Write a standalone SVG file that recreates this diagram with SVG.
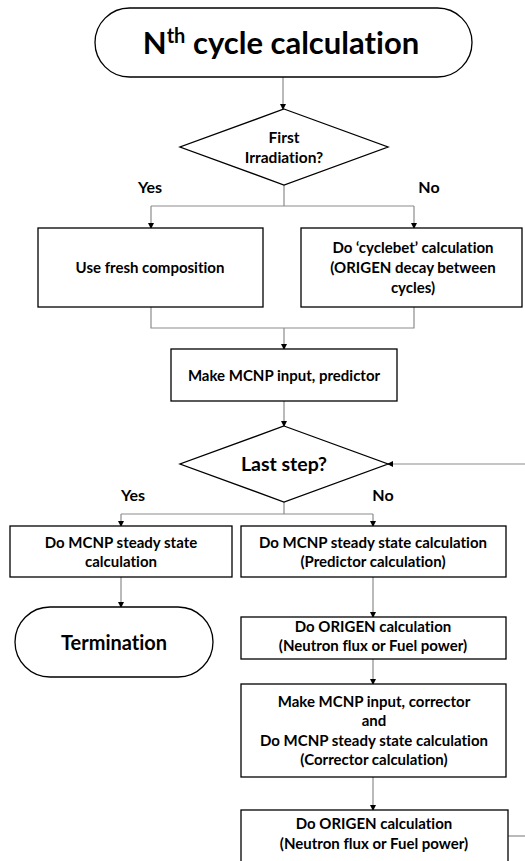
<svg xmlns="http://www.w3.org/2000/svg" width="525" height="861" viewBox="0 0 525 861">
<style>
text{font-family:Lato,"Open Sans","Liberation Sans",sans-serif;font-weight:bold;fill:#000;text-anchor:middle;font-variant-ligatures:none}
.box{fill:#fff;stroke:#000;stroke-width:1.3}
.c{fill:none;stroke:#8c8c8c;stroke-width:1.2}
.t14{font-size:15px}
.lbl{font-size:16px}
</style>
<defs>
<marker id="ah" markerWidth="6" markerHeight="6" refX="5" refY="3" orient="auto" markerUnits="userSpaceOnUse">
<path d="M0,0 L6,3 L0,6 z" fill="#000"/>
</marker>
</defs>
<rect width="525" height="861" fill="#fff"/>
<g id="connectors">
<path class="c" d="M283,77 V109" marker-end="url(#ah)"/>
<path class="c" d="M284,185 V206 M151,206 H414"/>
<path class="c" d="M151,206 V228" marker-end="url(#ah)"/>
<path class="c" d="M414,206 V228" marker-end="url(#ah)"/>
<path class="c" d="M151,307 V328 H414 V307"/>
<path class="c" d="M284,328 V349" marker-end="url(#ah)"/>
<path class="c" d="M284,401 V426" marker-end="url(#ah)"/>
<path class="c" d="M525,464 H388" marker-end="url(#ah)"/>
<path class="c" d="M284,502 V514 M121,514 H373"/>
<path class="c" d="M121,514 V526" marker-end="url(#ah)"/>
<path class="c" d="M373,514 V526" marker-end="url(#ah)"/>
<path class="c" d="M121,577 V607" marker-end="url(#ah)"/>
<path class="c" d="M373,577 V617" marker-end="url(#ah)"/>
<path class="c" d="M373,659 V684" marker-end="url(#ah)"/>
<path class="c" d="M373,777 V810" marker-end="url(#ah)"/>
<path class="c" d="M508,836 H525"/>
</g>
<g id="start">
<rect class="box" x="95" y="8" width="377" height="69" rx="34.5" ry="34.5"/>
<text x="281" y="54" style="font-size:31px">N<tspan style="font-size:20px" dy="-11">th</tspan><tspan dy="11"> cycle calculation</tspan></text>
</g>
<g id="first-irradiation">
<polygon class="box" points="284,109 388,147 284,185 180,147"/>
<text x="284" y="143" style="font-size:15.5px">First</text>
<text x="284" y="163" style="font-size:15.5px">Irradiation?</text>
</g>
<g id="labels1">
<text class="lbl" x="150" y="193">Yes</text>
<text class="lbl" x="429" y="193">No</text>
</g>
<g id="fresh">
<rect class="box" x="38" y="228" width="225" height="79"/>
<text class="t14" x="150" y="273">Use fresh composition</text>
</g>
<g id="cyclebet">
<rect class="box" x="301" y="228" width="221" height="79"/>
<text class="t14" x="413" y="253">Do ‘cyclebet’ calculation</text>
<text class="t14" x="413" y="273">(ORIGEN decay between</text>
<text class="t14" x="413" y="293">cycles)</text>
</g>
<g id="predictor-input">
<rect class="box" x="171" y="349" width="226" height="52"/>
<text class="t14" x="284" y="381">Make MCNP input, predictor</text>
</g>
<g id="last-step">
<polygon class="box" points="284,426 388,464 284,502 180,464"/>
<text x="284" y="471" style="font-size:19.5px">Last step?</text>
</g>
<g id="labels2">
<text class="lbl" x="133" y="501">Yes</text>
<text class="lbl" x="383" y="501">No</text>
</g>
<g id="steady-final">
<rect class="box" x="10" y="526" width="222" height="51"/>
<text class="t14" x="121" y="548">Do MCNP steady state</text>
<text class="t14" x="121" y="567">calculation</text>
</g>
<g id="termination">
<rect class="box" x="15" y="607" width="198" height="70" rx="35" ry="35"/>
<text x="114" y="650" style="font-size:20px">Termination</text>
</g>
<g id="steady-predictor">
<rect class="box" x="241" y="526" width="265" height="51"/>
<text class="t14" x="373" y="548">Do MCNP steady state calculation</text>
<text class="t14" x="373" y="567">(Predictor calculation)</text>
</g>
<g id="origen1">
<rect class="box" x="241" y="617" width="265" height="42"/>
<text class="t14" x="373" y="632">Do ORIGEN calculation</text>
<text class="t14" x="373" y="651">(Neutron flux or Fuel power)</text>
</g>
<g id="corrector">
<rect class="box" x="241" y="684" width="265" height="93"/>
<text class="t14" x="374" y="707">Make MCNP input, corrector</text>
<text class="t14" x="374" y="726">and</text>
<text class="t14" x="374" y="746">Do MCNP steady state calculation</text>
<text class="t14" x="374" y="765">(Corrector calculation)</text>
</g>
<g id="origen2">
<rect class="box" x="241" y="810" width="267" height="60"/>
<text class="t14" x="374" y="829">Do ORIGEN calculation</text>
<text class="t14" x="374" y="849">(Neutron flux or Fuel power)</text>
</g>
</svg>
